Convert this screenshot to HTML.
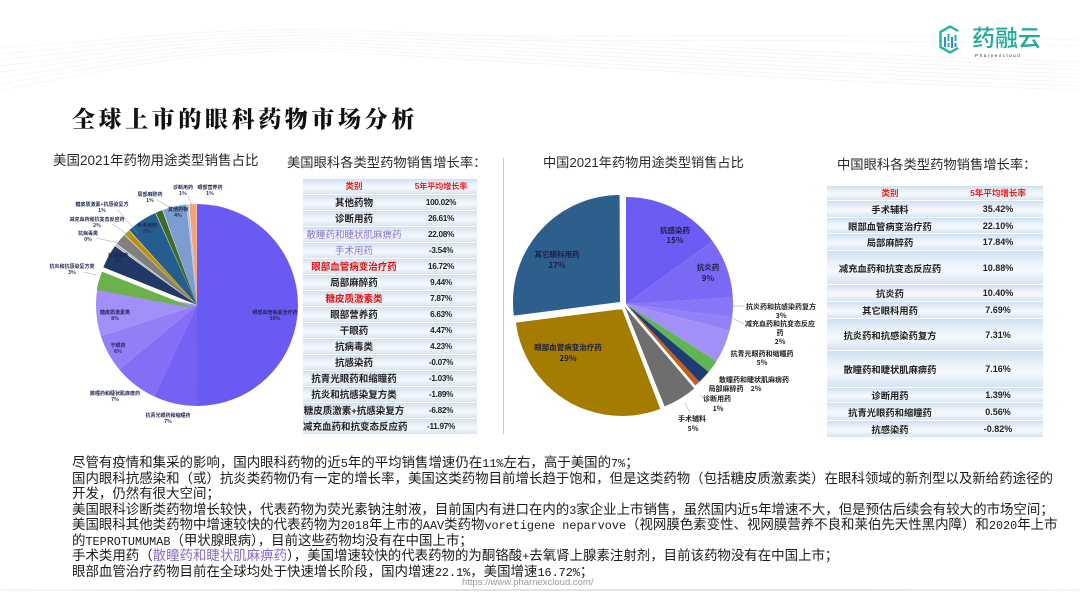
<!DOCTYPE html>
<html><head><meta charset="utf-8">
<style>
html,body{margin:0;padding:0;}
body{width:1080px;height:608px;position:relative;overflow:hidden;background:#fff;font-family:"Liberation Sans","Noto Sans CJK SC",sans-serif;color:#222;}
.abs{position:absolute;}
.sub{position:absolute;white-space:nowrap;color:#2a2a2a;font-family:"Liberation Sans","Noto Sans CJK SC",sans-serif;}
.tbl{position:absolute;}
.tbl .r{display:flex;align-items:center;background:linear-gradient(#cfdff1 0%,#eaf1f9 35%,#f6f9fd 60%,#d6e4f3 100%);border-top:1px solid rgba(255,255,255,0.85);box-sizing:border-box;}
.tbl .c1,.tbl .c2{text-align:center;white-space:nowrap;font-weight:bold;}
.tbl .c1{font-family:"Liberation Sans","Noto Sans CJK SC",sans-serif;}
.tbl .c2{font-family:"Liberation Sans",sans-serif;}
.hd{color:#e3201b;}
.line{position:absolute;left:72px;white-space:nowrap;font-size:13.45px;line-height:16px;height:16px;color:#1b1b1b;font-family:"Noto Sans CJK SC",sans-serif;}
.m{font-family:"Liberation Mono",monospace;font-size:11.8px;}
</style></head>
<body>

<!-- header waves -->
<svg class="abs" style="left:0;top:0" width="1080" height="110" viewBox="0 0 1080 110">
  <g fill="none" stroke="#f1f1f1" stroke-width="0.6">
    <path d="M0,48 C120,40 200,28 320,30 C520,34 760,52 1080,62"/>
    <path d="M0,54 C120,44 200,31 320,33 C520,37 760,56 1080,66"/>
    <path d="M0,60 C120,48 200,34 320,36 C520,41 760,60 1080,70"/>
    <path d="M0,66 C120,52 200,37 320,39 C520,45 760,64 1080,74"/>
    <path d="M0,72 C120,56 200,40 320,42 C520,49 760,68 1080,78"/>
    <path d="M0,78 C120,60 200,43 320,45 C520,53 760,72 1080,82"/>
    <path d="M0,84 C120,64 200,46 320,48 C520,57 760,76 1080,86"/>
    <path d="M0,90 C120,68 200,49 320,51 C520,61 760,80 1080,90"/>
    <path d="M400,34 C600,40 800,30 1080,40"/>
    <path d="M420,38 C620,44 820,36 1080,46"/>
  </g>
</svg>

<!-- logo -->
<svg class="abs" style="left:930px;top:18px" width="130" height="48" viewBox="930 18 130 48">
  <path d="M958,31 L950,26.5 L940.5,32 L940.5,47 L950,52.5 L958,48" fill="none" stroke="#22b3a2" stroke-width="2.4"/>
  <rect x="944" y="37" width="2" height="10" fill="#2a8fd0"/>
  <rect x="947.5" y="34" width="2" height="7" fill="#22b3a2"/>
  <rect x="947.5" y="43" width="2" height="4" fill="#22b3a2"/>
  <rect x="951" y="37" width="2" height="11" fill="#2a8fd0"/>
  <rect x="954.5" y="35" width="2" height="6" fill="#22b3a2"/>
  <rect x="954.5" y="43" width="2" height="4" fill="#2a8fd0"/>
  <text x="972" y="46" font-family="Noto Sans CJK SC,sans-serif" font-size="23" fill="#1faa9c" font-weight="500">药融云</text>
  <text x="975" y="57" font-family="Liberation Sans,sans-serif" font-size="4.8" fill="#333" letter-spacing="1.4">Pharnexcloud</text>
</svg>

<!-- title -->
<div class="abs" style="left:72px;top:103px;white-space:nowrap;font-family:'Noto Serif CJK SC','Noto Sans CJK SC',serif;font-weight:900;font-size:23px;letter-spacing:3.6px;line-height:30px;color:#111;">全球上市的眼科药物市场分析</div>

<!-- subtitles -->
<div class="sub" style="left:53px;top:152px;font-size:13.5px;line-height:18px;">美国2021年药物用途类型销售占比</div>
<div class="sub" style="left:287px;top:154px;font-size:13.3px;line-height:18px;">美国眼科各类型药物销售增长率：</div>
<div class="sub" style="left:543px;top:154px;font-size:13.2px;line-height:18px;">中国2021年药物用途类型销售占比</div>
<div class="sub" style="left:837px;top:156px;font-size:13.3px;line-height:18px;">中国眼科各类型药物销售增长率：</div>

<!-- divider -->
<div class="abs" style="left:503px;top:158px;width:1px;height:276px;background:#c3cad6;"></div>

<!-- pies -->
<svg class="abs" style="left:0;top:0" width="1080" height="608" viewBox="0 0 1080 608">
  <!-- US pie -->
  <g transform="rotate(-90 197 305)" fill="none" stroke-width="101">
    <circle cx="197" cy="305" r="50.5" pathLength="100" stroke="#6a5af4" stroke-dasharray="50 100" stroke-dashoffset="0"/>
    <circle cx="197" cy="305" r="50.5" pathLength="100" stroke="#7562f5" stroke-dasharray="7 100" stroke-dashoffset="-50"/>
    <circle cx="197" cy="305" r="50.5" pathLength="100" stroke="#846ef6" stroke-dasharray="7 100" stroke-dashoffset="-57"/>
    <circle cx="197" cy="305" r="50.5" pathLength="100" stroke="#947ef7" stroke-dasharray="6 100" stroke-dashoffset="-64"/>
    <circle cx="197" cy="305" r="50.5" pathLength="100" stroke="#a28ff8" stroke-dasharray="8 100" stroke-dashoffset="-70"/>
    <circle cx="193.2" cy="303.9" r="50.5" pathLength="100" stroke="#6cb24c" stroke-dasharray="3 100" stroke-dashoffset="-78"/>
    <circle cx="197" cy="305" r="50.5" pathLength="100" stroke="#213966" stroke-dasharray="3.8 100" stroke-dashoffset="-81.1"/>
    <circle cx="197" cy="305" r="50.5" pathLength="100" stroke="#b3b3b3" stroke-dasharray="0.3 100" stroke-dashoffset="-85"/>
    <circle cx="197" cy="305" r="50.5" pathLength="100" stroke="#7f7f7f" stroke-dasharray="1.8 100" stroke-dashoffset="-85.4"/>
    <circle cx="197" cy="305" r="50.5" pathLength="100" stroke="#bf9000" stroke-dasharray="0.9 100" stroke-dashoffset="-87.3"/>
    <circle cx="197" cy="305" r="50.5" pathLength="100" stroke="#255d8f" stroke-dasharray="4.9 100" stroke-dashoffset="-88.3"/>
    <circle cx="197" cy="305" r="50.5" pathLength="100" stroke="#3e6b2b" stroke-dasharray="1.1 100" stroke-dashoffset="-93.3"/>
    <circle cx="197" cy="305" r="50.5" pathLength="100" stroke="#7c9dd2" stroke-dasharray="3.8 100" stroke-dashoffset="-94.5"/>
    <circle cx="197" cy="305" r="50.5" pathLength="100" stroke="#aebfe3" stroke-dasharray="0.3 100" stroke-dashoffset="-98.35"/>
    <circle cx="197" cy="305" r="50.5" pathLength="100" stroke="#f3a27d" stroke-dasharray="1.2 100" stroke-dashoffset="-98.75"/>
  </g>
  <!-- US leader lines -->
  <g stroke="#9a9a9a" stroke-width="0.5" fill="none">
    <line x1="188" y1="196" x2="192" y2="205"/>
    <line x1="157" y1="200" x2="178" y2="212"/>
    <line x1="118" y1="210" x2="138" y2="234"/>
    <line x1="112" y1="224" x2="133" y2="238"/>
    <line x1="96" y1="238" x2="128" y2="245"/>
    <line x1="84" y1="272" x2="96" y2="275"/>
  </g>
  <!-- US labels -->
  <g font-family="Noto Sans CJK SC,sans-serif" font-size="5" font-weight="bold" fill="#1e2550" text-anchor="middle">
    <text x="183" y="189">诊断用药</text><text x="183" y="195">1%</text>
    <text x="210" y="189">眼部营养药</text><text x="210" y="195">1%</text>
    <text x="150" y="196">局部麻醉药</text><text x="150" y="202">1%</text>
    <text x="102" y="206">糖皮质激素+抗感染复方</text><text x="102" y="212">1%</text>
    <text x="97" y="221">减充血药和抗变态反应药</text><text x="97" y="227">2%</text>
    <text x="88" y="235">抗病毒类</text><text x="88" y="241">0%</text>
    <text x="72" y="268">抗炎和抗感染复方类</text><text x="72" y="274">3%</text>
    <text x="118" y="257">抗感染药</text><text x="118" y="263">4%</text>
    <text x="147" y="227">手术用药</text><text x="147" y="233">5%</text>
    <text x="178" y="211">其他药物</text><text x="178" y="217">4%</text>
    <text x="275" y="314">眼部血管病变治疗药</text><text x="275" y="320">50%</text>
    <text x="115" y="314">糖皮质激素类</text><text x="115" y="320">8%</text>
    <text x="118" y="347">干眼药</text><text x="118" y="353">6%</text>
    <text x="115" y="395">散瞳药和睫状肌麻痹药</text><text x="115" y="401">7%</text>
    <text x="168" y="417">抗青光眼药和缩瞳药</text><text x="168" y="423">7%</text>
  </g>

  <!-- CN pie -->
  <g fill="none" stroke-width="107">
    <g transform="rotate(-90 626 304)">
      <circle cx="626" cy="304" r="53.5" pathLength="100" stroke="#6b5cf3" stroke-dasharray="15 100" stroke-dashoffset="0"/>
      <circle cx="626" cy="304" r="53.5" pathLength="100" stroke="#7969f5" stroke-dasharray="9 100" stroke-dashoffset="-15"/>
      <circle cx="626" cy="304" r="53.5" pathLength="100" stroke="#8776f6" stroke-dasharray="3 100" stroke-dashoffset="-24"/>
      <circle cx="626" cy="304" r="53.5" pathLength="100" stroke="#9382f7" stroke-dasharray="2 100" stroke-dashoffset="-27"/>
      <circle cx="626" cy="304" r="53.5" pathLength="100" stroke="#a290f8" stroke-dasharray="5 100" stroke-dashoffset="-29"/>
      <circle cx="626" cy="304" r="53.5" pathLength="100" stroke="#5fb650" stroke-dasharray="2 100" stroke-dashoffset="-34"/>
      <circle cx="626" cy="304" r="53.5" pathLength="100" stroke="#203c74" stroke-dasharray="2 100" stroke-dashoffset="-36"/>
      <circle cx="626" cy="304" r="53.5" pathLength="100" stroke="#c5601c" stroke-dasharray="0.8 100" stroke-dashoffset="-38"/>
    </g>
    <g transform="rotate(-90 625 307)">
      <circle cx="625" cy="307" r="53.5" pathLength="100" stroke="#6e6e6e" stroke-dasharray="5.2 100" stroke-dashoffset="-38.8"/>
    </g>
    <g transform="rotate(-90 622 309)">
      <circle cx="622" cy="309" r="53.5" pathLength="100" stroke="#a37c00" stroke-dasharray="28.8 100" stroke-dashoffset="-44.2"/>
    </g>
    <g transform="rotate(-90 620 302)">
      <circle cx="620" cy="302" r="53.5" pathLength="100" stroke="#2e5e8c" stroke-dasharray="27 100" stroke-dashoffset="-73"/>
    </g>
  </g>
  <!-- CN leader lines -->
  <g stroke="#9a9a9a" stroke-width="0.5" fill="none">
    <line x1="733" y1="306" x2="744" y2="306"/>
    <line x1="732" y1="318" x2="744" y2="324"/>
    <line x1="685" y1="403" x2="690" y2="413"/>
    <line x1="700" y1="395" x2="705" y2="398"/>
  </g>
  <!-- CN labels -->
  <g font-family="Noto Sans CJK SC,sans-serif" font-size="7.5" font-weight="bold" fill="#1c1d45" text-anchor="middle">
    <text x="675" y="233">抗感染药</text><text x="675" y="243" font-size="8">15%</text>
    <text x="708" y="270">抗炎药</text><text x="708" y="281" font-size="8">9%</text>
    <text x="557" y="257">其它眼科用药</text><text x="557" y="268" font-size="8">27%</text>
    <text x="568" y="350">眼部血管病变治疗药</text><text x="568" y="361" font-size="8">29%</text>
  </g>
  <g font-family="Noto Sans CJK SC,sans-serif" font-size="7" font-weight="bold" fill="#222" text-anchor="middle">
    <text x="781" y="309">抗炎药和抗感染药复方</text><text x="781" y="318">3%</text>
    <text x="780" y="326">减充血药和抗变态反应</text><text x="780" y="335">药</text><text x="780" y="344">2%</text>
    <text x="762" y="356">抗青光眼药和缩瞳药</text><text x="762" y="365">5%</text>
    <text x="754" y="382">散瞳药和睫状肌麻痹药</text>
    <text x="726" y="391">局部麻醉药</text><text x="756" y="391">2%</text>
    <text x="717" y="401">诊断用药</text><text x="718" y="411">1%</text>
    <text x="692" y="421">手术辅料</text><text x="693" y="431">5%</text>
  </g>
</svg>

<!-- US table -->
<div class="tbl" style="left:303px;top:178px;width:174px;">
  <div class="r" style="height:15.5px;font-size:8.5px;"><div class="c1 hd" style="width:102px;">类别</div><div class="c2 hd" style="width:72px;font-family:'Liberation Sans','Noto Sans CJK SC',sans-serif;font-size:8px;">5年平均增长率</div></div>
  <div class="r" style="height:16px;font-size:9.5px;"><div class="c1" style="width:102px;">其他药物</div><div class="c2" style="width:72px;font-size:8.2px;letter-spacing:-0.3px;">100.02%</div></div>
  <div class="r" style="height:16px;font-size:9.5px;"><div class="c1" style="width:102px;">诊断用药</div><div class="c2" style="width:72px;font-size:8.2px;letter-spacing:-0.3px;">26.61%</div></div>
  <div class="r" style="height:16px;font-size:9.5px;"><div class="c1" style="width:102px;color:#8877c6;font-weight:normal;">散瞳药和睫状肌麻痹药</div><div class="c2" style="width:72px;font-size:8.2px;letter-spacing:-0.3px;">22.08%</div></div>
  <div class="r" style="height:16px;font-size:9.5px;"><div class="c1" style="width:102px;color:#8877c6;font-weight:normal;">手术用药</div><div class="c2" style="width:72px;font-size:8.2px;letter-spacing:-0.3px;">-3.54%</div></div>
  <div class="r" style="height:16px;font-size:9.5px;"><div class="c1" style="width:102px;color:#e01010;">眼部血管病变治疗药</div><div class="c2" style="width:72px;font-size:8.2px;letter-spacing:-0.3px;">16.72%</div></div>
  <div class="r" style="height:16px;font-size:9.5px;"><div class="c1" style="width:102px;">局部麻醉药</div><div class="c2" style="width:72px;font-size:8.2px;letter-spacing:-0.3px;">9.44%</div></div>
  <div class="r" style="height:16px;font-size:9.5px;"><div class="c1" style="width:102px;color:#e01010;">糖皮质激素类</div><div class="c2" style="width:72px;font-size:8.2px;letter-spacing:-0.3px;">7.87%</div></div>
  <div class="r" style="height:16px;font-size:9.5px;"><div class="c1" style="width:102px;">眼部营养药</div><div class="c2" style="width:72px;font-size:8.2px;letter-spacing:-0.3px;">6.63%</div></div>
  <div class="r" style="height:16px;font-size:9.5px;"><div class="c1" style="width:102px;">干眼药</div><div class="c2" style="width:72px;font-size:8.2px;letter-spacing:-0.3px;">4.47%</div></div>
  <div class="r" style="height:16px;font-size:9.5px;"><div class="c1" style="width:102px;">抗病毒类</div><div class="c2" style="width:72px;font-size:8.2px;letter-spacing:-0.3px;">4.23%</div></div>
  <div class="r" style="height:16px;font-size:9.5px;"><div class="c1" style="width:102px;">抗感染药</div><div class="c2" style="width:72px;font-size:8.2px;letter-spacing:-0.3px;">-0.07%</div></div>
  <div class="r" style="height:16px;font-size:9.5px;"><div class="c1" style="width:102px;">抗青光眼药和缩瞳药</div><div class="c2" style="width:72px;font-size:8.2px;letter-spacing:-0.3px;">-1.03%</div></div>
  <div class="r" style="height:16px;font-size:9.5px;"><div class="c1" style="width:102px;">抗炎和抗感染复方类</div><div class="c2" style="width:72px;font-size:8.2px;letter-spacing:-0.3px;">-1.89%</div></div>
  <div class="r" style="height:16px;font-size:9.5px;"><div class="c1" style="width:102px;">糖皮质激素+抗感染复方</div><div class="c2" style="width:72px;font-size:8.2px;letter-spacing:-0.3px;">-6.82%</div></div>
  <div class="r" style="height:16px;font-size:9.5px;"><div class="c1" style="width:102px;">减充血药和抗变态反应药</div><div class="c2" style="width:72px;font-size:8.2px;letter-spacing:-0.3px;">-11.97%</div></div>
</div>

<!-- CN table -->
<div class="tbl" style="left:827px;top:185px;width:216px;">
  <div class="r" style="height:15px;font-size:8.5px;"><div class="c1 hd" style="width:126px;">类别</div><div class="c2 hd" style="width:90px;font-family:'Liberation Sans','Noto Sans CJK SC',sans-serif;">5年平均增长率</div></div>
  <div class="r" style="height:17px;font-size:9.3px;"><div class="c1" style="width:126px;">手术辅料</div><div class="c2" style="width:90px;font-size:9px;">35.42%</div></div>
  <div class="r" style="height:16px;font-size:9.3px;"><div class="c1" style="width:126px;">眼部血管病变治疗药</div><div class="c2" style="width:90px;font-size:9px;">22.10%</div></div>
  <div class="r" style="height:17px;font-size:9.3px;"><div class="c1" style="width:126px;">局部麻醉药</div><div class="c2" style="width:90px;font-size:9px;">17.84%</div></div>
  <div class="r" style="height:34px;font-size:9.3px;"><div class="c1" style="width:126px;">减充血药和抗变态反应药</div><div class="c2" style="width:90px;font-size:9px;">10.88%</div></div>
  <div class="r" style="height:17px;font-size:9.3px;"><div class="c1" style="width:126px;">抗炎药</div><div class="c2" style="width:90px;font-size:9px;">10.40%</div></div>
  <div class="r" style="height:17px;font-size:9.3px;"><div class="c1" style="width:126px;">其它眼科用药</div><div class="c2" style="width:90px;font-size:9px;">7.69%</div></div>
  <div class="r" style="height:32px;font-size:9.3px;"><div class="c1" style="width:126px;">抗炎药和抗感染药复方</div><div class="c2" style="width:90px;font-size:9px;">7.31%</div></div>
  <div class="r" style="height:37px;font-size:9.3px;"><div class="c1" style="width:126px;">散瞳药和睫状肌麻痹药</div><div class="c2" style="width:90px;font-size:9px;">7.16%</div></div>
  <div class="r" style="height:15px;font-size:9.3px;"><div class="c1" style="width:126px;">诊断用药</div><div class="c2" style="width:90px;font-size:9px;">1.39%</div></div>
  <div class="r" style="height:18px;font-size:9.3px;"><div class="c1" style="width:126px;">抗青光眼药和缩瞳药</div><div class="c2" style="width:90px;font-size:9px;">0.56%</div></div>
  <div class="r" style="height:17px;font-size:9.3px;"><div class="c1" style="width:126px;">抗感染药</div><div class="c2" style="width:90px;font-size:9px;">-0.82%</div></div>
</div>

<!-- bottom text -->
<div class="line" style="top:453px;">尽管有疫情和集采的影响，国内眼科药物的近<span class="m">5</span>年的平均销售增速仍在<span class="m">11%</span>左右，高于美国的<span class="m">7%</span>；</div>
<div class="line" style="top:468.5px;">国内眼科抗感染和（或）抗炎类药物仍有一定的增长率，美国这类药物目前增长趋于饱和，但是这类药物（包括糖皮质激素类）在眼科领域的新剂型以及新给药途径的</div>
<div class="line" style="top:484px;">开发，仍然有很大空间；</div>
<div class="line" style="top:499.5px;">美国眼科诊断类药物增长较快，代表药物为荧光素钠注射液，目前国内有进口在内的<span class="m">3</span>家企业上市销售，虽然国内近<span class="m">5</span>年增速不大，但是预估后续会有较大的市场空间；</div>
<div class="line" style="top:515px;">美国眼科其他类药物中增速较快的代表药物为<span class="m">2018</span>年上市的<span class="m">AAV</span>类药物<span class="m">voretigene neparvove</span>（视网膜色素变性、视网膜营养不良和莱伯先天性黑内障）和<span class="m">2020</span>年上市</div>
<div class="line" style="top:530.5px;">的<span class="m">TEPROTUMUMAB</span>（甲状腺眼病），目前这些药物均没有在中国上市；</div>
<div class="line" style="top:546px;">手术类用药（<span style="color:#8a6cc0;">散瞳药和睫状肌麻痹药</span>），美国增速较快的代表药物的为酮铬酸<span class="m">+</span>去氧肾上腺素注射剂，目前该药物没有在中国上市；</div>
<div class="line" style="top:561.5px;">眼部血管治疗药物目前在全球均处于快速增长阶段，国内增速<span class="m">22.1%</span>，美国增速<span class="m">16.72%</span>；</div>

<!-- url + bottom line -->
<div class="abs" style="left:0;top:589px;width:1080px;height:2px;background:linear-gradient(90deg,rgba(225,225,225,0.3),#e2e2e2 40%,#e6e6e6 80%,rgba(230,230,230,0.4));"></div>
<div class="abs" style="left:462px;top:577px;font-size:9.5px;line-height:12px;color:#9a9a9a;white-space:nowrap;font-family:'Liberation Sans',sans-serif;">https://www.pharnexcloud.com/</div>

</body></html>
